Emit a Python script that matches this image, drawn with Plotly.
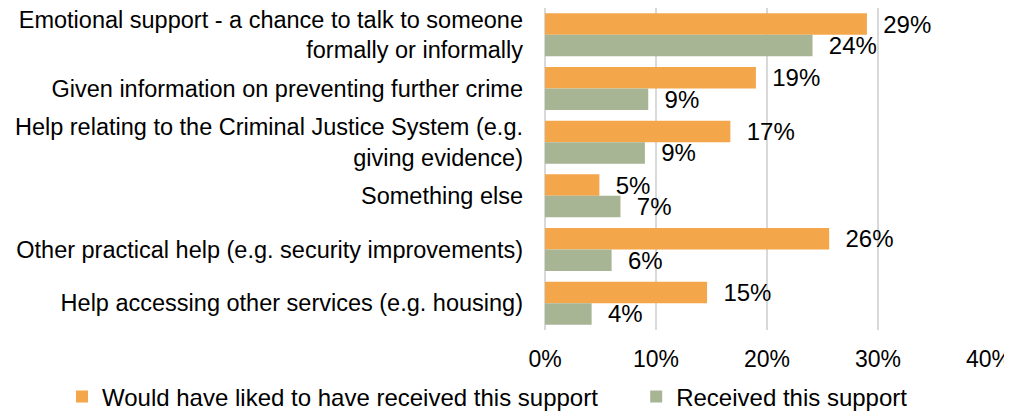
import plotly.graph_objects as go

categories = [
    "Emotional support - a chance to talk to someone<br>formally or informally",
    "Given information on preventing further crime",
    "Help relating to the Criminal Justice System (e.g.<br>giving evidence)",
    "Something else",
    "Other practical help (e.g. security improvements)",
    "Help accessing other services (e.g. housing)",
]
would_have_liked = [0.290, 0.190, 0.167, 0.049, 0.256, 0.146]
received = [0.241, 0.093, 0.090, 0.068, 0.060, 0.042]

ORANGE = "#F4A64A"
GREEN = "#A7B594"
FONT = "Liberation Sans, Arial, sans-serif"
FS = 24

fig = go.Figure()
fig.add_trace(go.Bar(
    y=categories, x=would_have_liked, orientation="h",
    # trailing nbsp widen the gap to the second legend entry
    name="Would have liked to have received this support" + "\u00a0" * 5,
    marker=dict(color=ORANGE, line=dict(width=0)),
    texttemplate="\u00a0\u00a0%{x:.0%}", textposition="outside", constraintext="none",
    textfont=dict(size=FS, color="black"), cliponaxis=False,
))
fig.add_trace(go.Bar(
    y=categories, x=received, orientation="h",
    name="Received this support",
    marker=dict(color=GREEN, line=dict(width=0)),
    texttemplate="\u00a0\u00a0%{x:.0%}", textposition="outside", constraintext="none",
    textfont=dict(size=FS, color="black"), cliponaxis=False,
))

# page body adds 8px offset, margins compensate
L, R, T, B = 537, 31, 0, 89
plot_w = 1012 - L - R
plot_h = 411 - T - B

fig.update_layout(
    width=1012, height=411,
    barmode="group", bargap=0.2, bargroupgap=0,
    plot_bgcolor="white", paper_bgcolor="white",
    font=dict(family=FONT, size=FS, color="black"),
    margin=dict(l=L, r=R, t=T, b=B, autoexpand=False),
    showlegend=True,
    legend=dict(
        orientation="h",
        x=(54 - L) / plot_w, xanchor="left",
        y=-(389 - plot_h) / plot_h, yanchor="middle",
        font=dict(size=FS), itemwidth=30, traceorder="normal",
    ),
    xaxis=dict(
        range=[0, 0.4], dtick=0.1, tickformat=".0%", tickfont=dict(size=23),
        showgrid=True, gridcolor="#D9D9D9", gridwidth=1.5,
        zeroline=True, zerolinecolor="#D9D9D9", zerolinewidth=1.5,
        showline=False, ticks="", ticklabelstandoff=13,
    ),
    yaxis=dict(
        autorange="reversed", showgrid=False, showline=False,
        tickfont=dict(size=23.5), ticks="", ticklabelstandoff=21,
    ),
)

fig.write_html("out.html")
